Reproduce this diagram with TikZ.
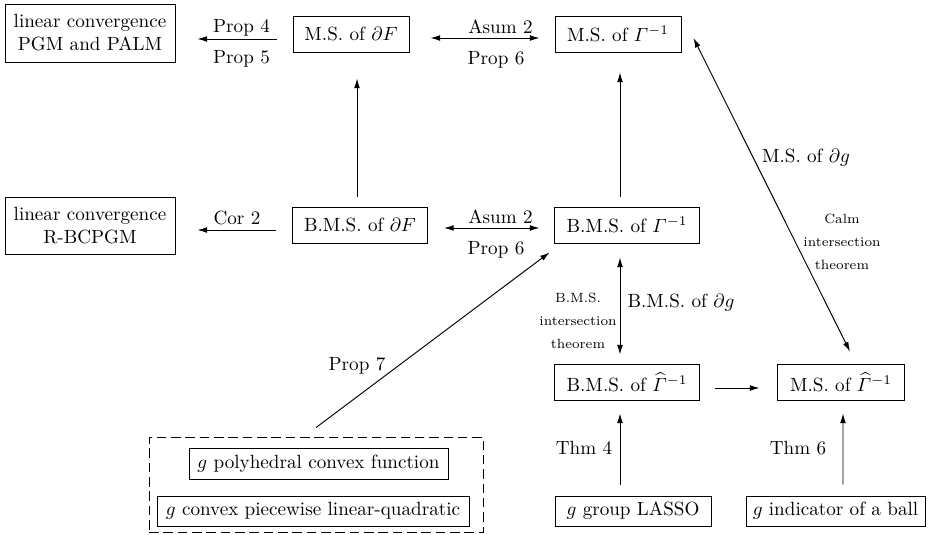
\documentclass[tikz,border=0pt]{standalone}
\usepackage{amsmath}
\usetikzlibrary{arrows.meta}
\def\pxu{0.523pt}
\begin{document}
\begin{tikzpicture}[x=0.523pt,y=-0.523pt,
  box/.style={draw, line width=0.5pt, inner sep=2pt, align=center, minimum height=36*\pxu},
  arr/.style={-{Latex[length=5pt,width=3pt]}, line width=0.5pt},
  darr/.style={{Latex[length=5pt,width=3pt]}-{Latex[length=5pt,width=3pt]}, line width=0.5pt},
  lbl/.style={inner sep=0pt},
  small/.style={font=\scriptsize, align=center, inner sep=0pt}]
\useasboundingbox (0,0) rectangle (928,534);

% boxes
\node[box, minimum width=170*\pxu, minimum height=58*\pxu] (pgm) at (90,33) {linear convergence\\PGM and PALM};
\node[box, minimum width=116*\pxu] (msF) at (351,34) {M.S. of $\partial F$};
\node[box, minimum width=126*\pxu] (msG) at (618,34) {M.S. of $\varGamma^{-1}$};
\node[box, minimum width=170*\pxu, minimum height=57*\pxu] (rb) at (90,226) {linear convergence\\R-BCPGM};
\node[box, minimum width=135*\pxu] (bmsF) at (360,225) {B.M.S. of $\partial F$};
\node[box, minimum width=145*\pxu] (bmsG) at (627,225) {B.M.S. of $\varGamma^{-1}$};
\node[box, minimum width=145*\pxu] (bmsGh) at (627,382) {B.M.S. of $\widehat{\varGamma}^{-1}$};
\node[box, minimum width=127*\pxu] (msGh) at (841,382) {M.S. of $\widehat{\varGamma}^{-1}$};
\node[draw, dashed, dash pattern=on 5pt off 2.5pt, line width=0.5pt, minimum width=334*\pxu, minimum height=95*\pxu] (dash) at (316,484.5) {};
\node[box, minimum width=259*\pxu, minimum height=31*\pxu] (poly) at (318.5,463.5) {$g$ polyhedral convex function};
\node[box, minimum width=312*\pxu, minimum height=30*\pxu] (pwlq) at (313,511) {$g$ convex piecewise linear-quadratic};
\node[box, minimum width=156*\pxu, minimum height=30*\pxu] (lasso) at (633,511) {$g$ group LASSO};
\node[box, minimum width=179*\pxu, minimum height=30*\pxu] (ind) at (835.5,511) {$g$ indicator of a ball};

% connectors
\draw[arr, shorten <=16*\pxu, shorten >=22*\pxu] ([yshift=-5*\pxu]msF.west) -- ([yshift=-6*\pxu]pgm.east);
\draw[darr, shorten <=21*\pxu, shorten >=15*\pxu] ([yshift=-4*\pxu]msF.east) -- ([yshift=-4*\pxu]msG.west);
\draw[arr, shorten <=10*\pxu, shorten >=26*\pxu] ([xshift=-3*\pxu]bmsF.north) -- ([xshift=6*\pxu]msF.south);
\draw[arr, shorten <=10*\pxu, shorten >=20*\pxu] ([xshift=-7*\pxu]bmsG.north) -- ([xshift=2*\pxu]msG.south);
\draw[arr, shorten <=16*\pxu, shorten >=22*\pxu] ([yshift=-5*\pxu]bmsF.west) -- ([yshift=-4*\pxu]rb.east);
\draw[darr, shorten <=16*\pxu, shorten >=14.5*\pxu] ([yshift=-3*\pxu]bmsF.east) -- ([yshift=-3*\pxu]bmsG.west);
\draw[arr, shorten <=15*\pxu, shorten >=5.6*\pxu] ([xshift=-12*\pxu]dash.north) -- ([yshift=-5.6*\pxu]bmsG.south west);
\draw[darr, shorten <=14*\pxu, shorten >=9*\pxu] ([xshift=-7*\pxu]bmsG.south) -- ([xshift=-7*\pxu]bmsGh.north);
\draw[darr, shorten <=4.5*\pxu, shorten >=13.4*\pxu] ([xshift=10*\pxu]msG.east) -- ([xshift=15*\pxu]msGh.north);
\draw[arr, shorten <=15.5*\pxu, shorten >=17.5*\pxu] ([yshift=-6*\pxu]bmsGh.east) -- ([yshift=-6*\pxu]msGh.west);
\draw[arr, shorten <=11*\pxu, shorten >=13*\pxu] ([xshift=-13*\pxu]lasso.north) -- ([xshift=-7*\pxu]bmsGh.south);
\draw[arr, shorten <=11*\pxu, shorten >=13*\pxu] ([xshift=7.5*\pxu]ind.north) -- ([xshift=2*\pxu]msGh.south);

% labels
\node[lbl] (l1) at (241.5,28) {Prop 4};
\node[lbl] (l2) at (241.5,58.5) {Prop 5};
\node[lbl] (l3) at (500.5,26.5) {Asum 2};
\node[lbl] (l4) at (496,59.5) {Prop 6};
\node[lbl] (l5) at (237,217.5) {Cor 2};
\node[lbl] (l6) at (500.5,216.5) {Asum 2};
\node[lbl] (l7) at (496,250) {Prop 6};
\node[lbl] (l8) at (357,366) {Prop 7};
\node[lbl] (l9) at (681,303) {B.M.S. of $\partial g$};
\node[lbl] (l10) at (806,158) {M.S. of $\partial g$};
\node[lbl] (l11) at (584,448) {Thm 4};
\node[lbl] (l12) at (798,448) {Thm 6};
\node[small] (s1) at (578,321) {B.M.S.\\[4pt]intersection\\[4pt]theorem};
\node[small] (s2) at (842,242) {Calm\\[4pt]intersection\\[4pt]theorem};
\end{tikzpicture}
\end{document}
